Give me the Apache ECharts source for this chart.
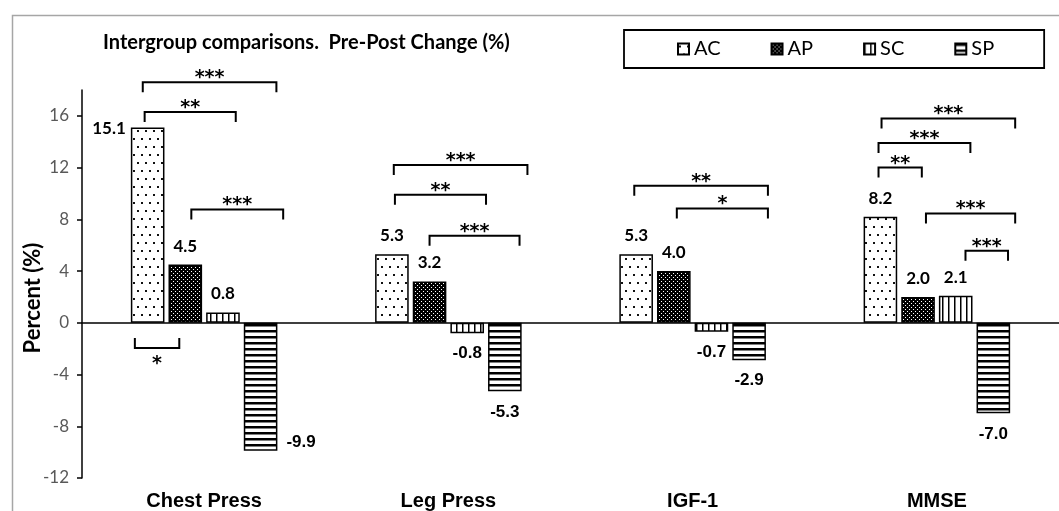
<!DOCTYPE html>
<html>
<head>
<meta charset="utf-8">
<script src="https://cdn.jsdelivr.net/npm/echarts@6/dist/echarts.min.js"></script>
<style>
  html, body { margin: 0; padding: 0; background: #fff; }
  #chart { width: 1059px; height: 511px; }
</style>
</head>
<body>
<div id="chart"></div>
<script>
const categories = ['Chest Press', 'Leg Press', 'IGF-1', 'MMSE']
const groups = ['AC', 'AP', 'SC', 'SP']
const acValues = [15.1, 5.3, 5.3, 8.2]
const apValues = [4.5, 3.2, 4.0, 2.0]
const scValues = [0.8, -0.8, -0.7, 2.1]
const spValues = [-9.9, -5.3, -2.9, -7.0]
const yTicks = [-12, -8, -4, 0, 4, 8, 12, 16]

// significance brackets: [category, y of the bracket line, from bar slot, to bar slot, stars, legs (1 down / -1 up)]
const brackets = [
  [0, 18.6, -0.13, 3.42, '***', 1],
  [0, 16.3, -0.08, 2.34, '**', 1],
  [0, 8.76, 1.16, 3.6, '***', 1],
  [0, -1.94, -0.34, 0.84, '*', -1],
  [1, 12.2, 0.05, 3.6, '***', 1],
  [1, 9.9, 0.08, 2.5, '**', 1],
  [1, 6.74, 1.0, 3.39, '***', 1],
  [2, 10.6, -0.05, 3.5, '**', 1],
  [2, 8.84, 1.08, 3.5, '*', 1],
  [3, 15.8, 0.03, 3.58, '***', 1],
  [3, 13.9, -0.05, 2.39, '***', 1],
  [3, 12.0, -0.05, 1.1, '**', 1],
  [3, 8.45, 1.21, 3.58, '***', 1],
  [3, 5.58, 2.26, 3.39, '***', 1],
]

const CAT_GAP = 0.4
const BAR_GAP = 0.12

function makePattern(w, h, draw) {
  const c = document.createElement('canvas')
  c.width = w
  c.height = h
  const ctx = c.getContext('2d')
  draw(ctx)
  return { image: c, repeat: 'repeat' }
}

const patterns = [
  // AC: sparse dots
  makePattern(8, 16, (ctx) => {
    ctx.fillStyle = '#fff'
    ctx.fillRect(0, 0, 8, 16)
    ctx.fillStyle = '#111'
    ctx.fillRect(1, 2, 2, 2)
    ctx.fillRect(5, 10, 2, 2)
  }),
  // AP: dark with small white dots
  makePattern(4, 4, (ctx) => {
    ctx.fillStyle = '#000'
    ctx.fillRect(0, 0, 4, 4)
    ctx.fillStyle = '#fff'
    ctx.fillRect(1, 1, 1, 1)
    ctx.fillRect(3, 3, 1, 1)
  }),
  // SC: vertical lines
  makePattern(6, 6, (ctx) => {
    ctx.fillStyle = '#fff'
    ctx.fillRect(0, 0, 6, 6)
    ctx.fillStyle = '#000'
    ctx.fillRect(0, 0, 1.5, 6)
  }),
  // SP: horizontal stripes
  makePattern(6, 6, (ctx) => {
    ctx.fillStyle = '#fff'
    ctx.fillRect(0, 0, 6, 6)
    ctx.fillStyle = '#000'
    ctx.fillRect(0, 0, 6, 2.5)
  }),
]

// a couple of labels sit beside their bar rather than over/under it
const labelTweaks = {
  '0-0': { position: 'left', distance: 5, offset: [0, -97] },
  '3-0': { position: 'right', distance: 9, offset: [0, 55] },
}

const posFont = { fontFamily: 'Lato', fontWeight: 'bold', fontSize: 17, color: '#000' }
const negFont = { fontFamily: 'Liberation Sans', fontWeight: 'bold', fontSize: 17, color: '#000' }

const seriesValues = [acValues, apValues, scValues, spValues]

const barSeries = seriesValues.map((vals, s) => ({
  name: groups[s],
  type: 'bar',
  barCategoryGap: CAT_GAP * 100 + '%',
  barGap: BAR_GAP * 100 + '%',
  itemStyle: { color: patterns[s], borderColor: '#000', borderWidth: 1.5 },
  data: vals.map((v, i) => ({
    value: v,
    label: {
      show: true,
      position: v >= 0 ? 'top' : 'bottom',
      distance: v >= 0 ? 10 : 12,
      formatter: (p) => p.value.toFixed(1),
      ...(v >= 0 ? posFont : negFont),
      ...(labelTweaks[s + '-' + i] || {}),
    },
  })),
}))

const bracketSeries = {
  type: 'custom',
  data: brackets.map((b) => [b[0], b[1], b[2], b[3], b[5]]),
  encode: { x: 0, y: 1 },
  silent: true,
  z: 5,
  renderItem(params, api) {
    const p = api.coord([api.value(0), api.value(1)])
    const band = api.size([1, 0])[0]
    const barW = (band * (1 - CAT_GAP)) / (4 + 3 * BAR_GAP)
    const slotW = barW * (1 + BAR_GAP)
    const x0 = p[0] + (api.value(2) - 1.5) * slotW
    const x1 = p[0] + (api.value(3) - 1.5) * slotW
    const dir = api.value(4)
    const y = p[1]
    const leg = 10 * dir
    return {
      type: 'group',
      children: [
        {
          type: 'polyline',
          shape: { points: [[x0, y + leg], [x0, y], [x1, y], [x1, y + leg]] },
          style: { stroke: '#000', lineWidth: 2, fill: null },
        },
        {
          type: 'text',
          x: (x0 + x1) / 2,
          y: dir > 0 ? y - 4 : y + 16,
          style: {
            text: brackets[params.dataIndex][4],
            fontFamily: 'DejaVu Sans',
            fontWeight: 'bold',
            fontSize: 19,
            fill: '#000',
            align: 'center',
            verticalAlign: 'middle',
          },
        },
      ],
    }
  },
}

const chart = echarts.init(document.getElementById('chart'), null, { renderer: 'canvas' })

chart.setOption({
  animation: false,
  backgroundColor: '#fff',
  title: {
    text: 'Intergroup comparisons.  Pre-Post Change (%)',
    left: 103,
    top: 33,
    padding: 0,
    textStyle: { fontFamily: 'Lato', fontWeight: 'bold', fontSize: 20, color: '#000' },
  },
  legend: {
    data: groups,
    left: 624,
    top: 30,
    icon: 'rect',
    itemWidth: 11,
    itemHeight: 11,
    itemGap: 50,
    padding: [8, 50, 8, 53],
    borderColor: '#000',
    borderWidth: 1.8,
    borderRadius: 0,
    textStyle: { fontFamily: 'Lato', fontSize: 20, color: '#000', lineHeight: 22 },
  },
  graphic: [
    {
      type: 'rect',
      left: 10,
      top: 13,
      shape: { width: 1200, height: 700 },
      style: { stroke: '#a6a6a6', lineWidth: 1.5, fill: null },
      silent: true,
    },
  ],
  grid: { left: 82, top: 90, width: 988, bottom: 33 },
  xAxis: [
    {
      type: 'category',
      data: categories,
      axisLine: { onZero: true, lineStyle: { color: '#000', width: 1.5 } },
      axisTick: { show: false },
      axisLabel: { show: false },
    },
    {
      type: 'category',
      data: categories,
      position: 'bottom',
      axisLine: { show: false, onZero: false },
      axisTick: { show: false },
      axisLabel: {
        margin: 13,
        fontFamily: 'Liberation Sans',
        fontWeight: 'bold',
        fontSize: 20,
        color: '#000',
      },
    },
  ],
  yAxis: {
    type: 'value',
    min: -12,
    max: 18,
    name: 'Percent (%)',
    nameLocation: 'middle',
    nameGap: 38,
    nameMoveOverlap: false,
    nameRotate: 90,
    nameTextStyle: {
      fontFamily: 'Lato',
      fontWeight: 'bold',
      fontSize: 22,
      color: '#000',
      padding: [0, 28, 0, 0],
    },
    splitLine: { show: false },
    axisLine: { show: true, lineStyle: { color: '#000', width: 1.5 } },
    axisTick: { show: true, length: 5, customValues: yTicks, lineStyle: { color: '#000', width: 1.5 } },
    axisLabel: {
      customValues: yTicks,
      margin: 13,
      fontFamily: 'Lato',
      fontSize: 17,
      color: '#595959',
    },
  },
  series: [...barSeries, bracketSeries],
})
</script>
</body>
</html>
